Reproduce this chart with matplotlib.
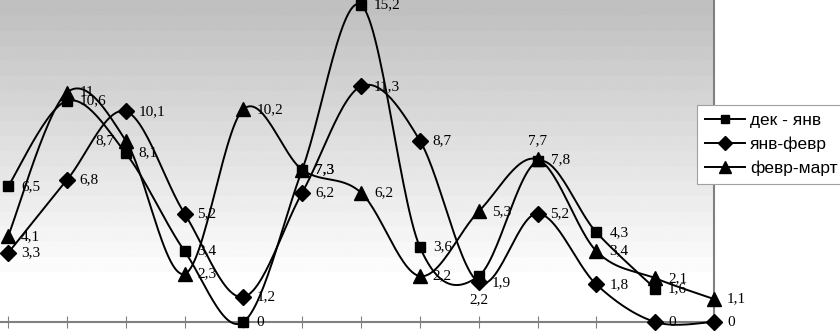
import numpy as np
import matplotlib
matplotlib.use("Agg")
import matplotlib.pyplot as plt

# values (comma-decimal labels in the original)
dec_jan = [6.5, 10.6, 8.1, 3.4, 0, 7.3, 15.2, 3.6, 2.2, 7.7, 4.3, 1.6]
jan_feb = [3.3, 6.8, 10.1, 5.2, 1.2, 6.2, 11.3, 8.7, 1.9, 5.2, 1.8, 0, 0]
feb_mar = [4.1, 11, 8.7, 2.3, 10.2, 7.3, 6.2, 2.2, 5.3, 7.8, 3.4, 2.1, 1.1]
names = ["дек - янв", "янв-февр", "февр-март"]


def smooth(ys, n=30):
    # Excel-like smoothed line: cubic Bezier with 1/6 tangent control points
    p = np.column_stack([np.arange(len(ys)), ys]).astype(float)
    out = [p[0]]
    for i in range(len(p) - 1):
        p0 = p[i - 1] if i > 0 else p[i]
        p3 = p[i + 2] if i + 2 < len(p) else p[i + 1]
        c1 = p[i] + (p[i + 1] - p0) / 6
        c2 = p[i + 1] - (p3 - p[i]) / 6
        t = np.linspace(0, 1, n)[1:, None]
        seg = ((1 - t) ** 3 * p[i] + 3 * (1 - t) ** 2 * t * c1
               + 3 * (1 - t) * t ** 2 * c2 + t ** 3 * p[i + 1])
        out.extend(seg)
    out = np.array(out)
    return out[:, 0], out[:, 1]


def fmt(v):
    return f"{v:g}".replace(".", ",")


fig = plt.figure(figsize=(8.4, 3.31), dpi=100)
ax = fig.add_axes([0, 9 / 331, 714 / 840, 322 / 331])
ax.set_xlim(-8 / 58.83, 12)
ax.set_ylim(0, 322 / 20.86)

# banded grey-to-white background
levels = 18
ys = np.linspace(0, 1, 400)
g = np.clip((ys - 0.155) / (1 - 0.155), 0, 1)
g = np.ceil(g * levels) / levels
col = 1.0 - (1.0 - 0.753) * g
ax.imshow(col[:, None], cmap="gray", vmin=0, vmax=1, origin="lower",
          extent=[0, 1, 0, 1], transform=ax.transAxes, aspect="auto", zorder=0)

series = [dec_jan, jan_feb, feb_mar]
markers = [("s", 6.5), ("D", 8), ("^", 9.5)]
for vals, name, (m, ms) in zip(series, names, markers):
    sx, sy = smooth(vals)
    ax.plot(sx, sy, color="black", lw=1.4, zorder=3, clip_on=False)
    ax.plot(range(len(vals)), vals, ls="none", marker=m, ms=ms, color="black",
            zorder=4, clip_on=False)
    ax.plot([], [], color="black", lw=1.4, marker=m, ms=ms * 0.85, label=name)

# label offsets in pixels, default to the right of the point
special = {(0, 8): (0, -24, "center"), (0, 9): (0, 21, "center"),
           (2, 2): (-11, 0, "right")}
for si, vals in enumerate(series):
    for i, v in enumerate(vals):
        dx, dy, ha = special.get((si, i), (13, 0, "left"))
        ax.annotate(fmt(v), (i, v), xytext=(dx, dy), textcoords="offset pixels",
                    ha=ha, va="center", fontsize=11, family="Liberation Serif",
                    zorder=5, annotation_clip=False)

for s in ["left", "top"]:
    ax.spines[s].set_visible(False)
ax.spines["bottom"].set_color("#808080")
ax.spines["bottom"].set_linewidth(1.5)
ax.spines["right"].set_color("#808080")
ax.spines["right"].set_linewidth(1.5)
ax.set_xticks(range(13))
ax.set_xticklabels([])
ax.tick_params(axis="x", direction="inout", length=8, color="#808080")
ax.set_yticks([])

leg = fig.legend(loc="upper left", bbox_to_anchor=(697 / 840, 1 - 105 / 331),
                 borderaxespad=0, fancybox=False, framealpha=1, edgecolor="#a0a0a0",
                 prop={"family": "Liberation Sans", "size": 12.5},
                 handlelength=2.3, handletextpad=0.3, labelspacing=0.5, borderpad=0.45)
leg.get_frame().set_linewidth(0.8)

fig.savefig("out.png", dpi=100)
